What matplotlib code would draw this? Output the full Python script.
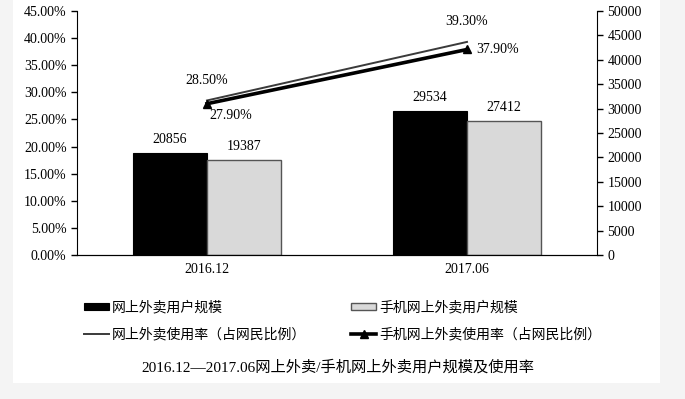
"""plot.py

online food delivery users (scale, bars on the right axis) and usage rate
(share of netizens, lines on the left axis), 2016.12 vs 2017.06.
"""

import matplotlib
matplotlib.use("Agg")
import matplotlib.pyplot as plt
from matplotlib.patches import Rectangle
from matplotlib.ticker import FuncFormatter
import numpy as np

plt.rcParams["font.family"] = ["Liberation Serif", "Noto Sans CJK SC"]

periods = ["2016.12", "2017.06"]
users_all = [20856, 29534]
users_mobile = [19387, 27412]
rate_all = [28.50, 39.30]
rate_mobile = [27.90, 37.90]

label_users_all = "网上外卖用户规模"
label_users_mobile = "手机网上外卖用户规模"
label_rate_all = "网上外卖使用率（占网民比例）"
label_rate_mobile = "手机网上外卖使用率（占网民比例）"
title = "2016.12—2017.06网上外卖/手机网上外卖用户规模及使用率"

fig = plt.figure(figsize=(6.85, 3.99), dpi=100, facecolor="#f4f4f4")
# white panel behind everything (zorder below the axes)
fig.patches.append(Rectangle((13 / 685, 16 / 399), 647 / 685, 383 / 399,
                             transform=fig.transFigure, facecolor="white",
                             edgecolor="none", zorder=-5))

ax = fig.add_axes([77 / 685, 144 / 399, 520 / 685, 244 / 399])
ax2 = ax.twinx()

x = np.arange(len(periods))
w = 0.285

# bars on the right axis (user counts)
b1 = ax2.bar(x - w / 2, users_all, w, color="black", edgecolor="black", linewidth=0.8)
b2 = ax2.bar(x + w / 2, users_mobile, w, color="#d9d9d9", edgecolor="#555555", linewidth=1.0)
for xi, v in zip(x - w / 2, users_all):
    ax2.annotate(f"{v}", (xi, v), xytext=(0, 5), textcoords="offset points",
                 ha="center", va="bottom", fontsize=10)
for xi, v in zip(x + w / 2, users_mobile):
    ax2.annotate(f"{v}", (xi, v), xytext=(0, 5), textcoords="offset points",
                 ha="center", va="bottom", fontsize=10)
ax2.set_ylim(0, 50000)
ax2.set_yticks(range(0, 50001, 5000))

# lines on the left axis (rate), drawn above bars
l1, = ax.plot(x, rate_all, color="#3a3a3a", linewidth=1.4, zorder=3)
l2, = ax.plot(x, rate_mobile, color="black", linewidth=2.6, marker="^",
              markersize=6, zorder=4)
ax.set_zorder(ax2.get_zorder() + 1)
ax.patch.set_visible(False)

ax.annotate(f"{rate_all[0]:.2f}%", (x[0], rate_all[0]), xytext=(0, 10),
            textcoords="offset points", ha="center", va="bottom", fontsize=10)
ax.annotate(f"{rate_mobile[0]:.2f}%", (x[0], rate_mobile[0]), xytext=(2, -4),
            textcoords="offset points", ha="left", va="top", fontsize=10)
ax.annotate(f"{rate_all[1]:.2f}%", (x[1], rate_all[1]), xytext=(0, 10),
            textcoords="offset points", ha="center", va="bottom", fontsize=10)
ax.annotate(f"{rate_mobile[1]:.2f}%", (x[1], rate_mobile[1]), xytext=(7, 0),
            textcoords="offset points", ha="left", va="center", fontsize=10)

ax.set_xlim(-0.5, 1.5)
ax.set_ylim(0, 45)
ax.set_yticks(np.arange(0, 45.1, 5))
ax.yaxis.set_major_formatter(FuncFormatter(lambda v, _: f"{v:.2f}%"))
ax.set_xticks(x)
ax.set_xticklabels(periods)

for a in (ax, ax2):
    a.spines["top"].set_visible(False)
    a.tick_params(axis="both", labelsize=10, direction="out", length=4, width=1)
    a.tick_params(axis="x", length=0, pad=6)
ax.spines["right"].set_visible(False)
ax2.spines["left"].set_visible(False)

fig.legend([b1, l1, b2, l2],
           [label_users_all, label_rate_all, label_users_mobile, label_rate_mobile],
           ncol=2, loc="center left", bbox_to_anchor=(78 / 685, 1 - 321 / 399),
           frameon=False, fontsize=10, handlelength=1.8, handleheight=0.5,
           handletextpad=0.2, columnspacing=3.3, labelspacing=0.95,
           borderaxespad=0)

fig.text(338 / 685, 1 - 367 / 399, title, ha="center", va="center", fontsize=11)

fig.savefig("out.png", dpi=100, facecolor=fig.get_facecolor())
